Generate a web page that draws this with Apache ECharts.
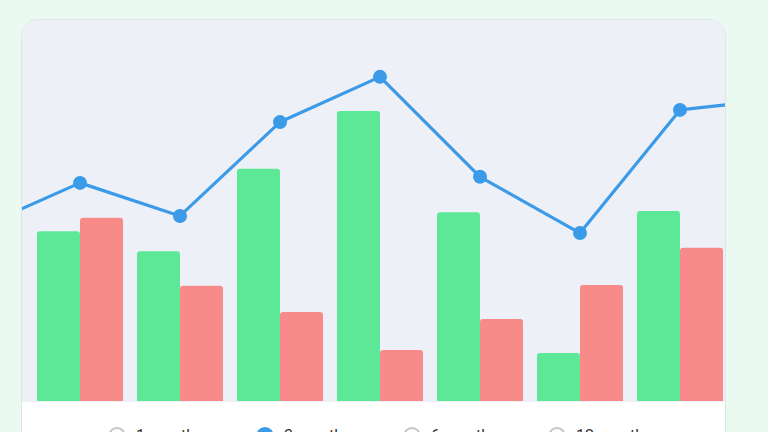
<!DOCTYPE html>
<html><head><meta charset="utf-8">
<script src="https://cdn.jsdelivr.net/npm/echarts@6/dist/echarts.min.js"></script>
<style>
html,body{margin:0;padding:0;width:768px;height:432px;overflow:hidden;background:#eafaf0;font-family:Roboto,"Noto Sans",sans-serif;}
#card{position:absolute;left:21px;top:19px;width:705px;height:460px;border-radius:16px;overflow:hidden;background:#fff;border:1px solid #dfe3ea;box-sizing:border-box;}
#plot{position:absolute;left:0;top:0;width:705px;height:382px;background:#eef0f8;overflow:hidden;}
#chart{position:absolute;left:-92px;top:0;width:900px;height:382px;}
#footer{position:absolute;left:0;top:382px;width:705px;height:80px;}
.radio{position:absolute;top:24px;display:flex;align-items:center;font-size:16px;color:#333;}
.radio .c{width:18px;height:18px;border-radius:50%;border:2px solid #c4c4c4;box-sizing:border-box;margin-right:10px;background:#fff;}
.radio.sel .c{border-color:#3b9be8;background:#3b9be8;}
</style></head>
<body>
<div id="card">
  <div id="plot"><div id="chart"></div></div>
  <div id="footer"></div>
</div>
<script>
const categories = ['P0','P1','P2','P3','P4','P5','P6','P7','P8'];
const greenValues = ['-', 44.7, 39.4, 61.1, 76.3, 49.7, 12.6, 50.0, '-'];
const redValues   = ['-', 48.2, 30.3, 23.4, 13.4, 21.6, 30.5, 40.3, '-'];
const lineValues  = [45.7, 57.4, 48.7, 73.4, 85.3, 59.0, 44.2, 76.6, 79.5];
const rangeLabels = ['1 month', '3 months', '6 months', '12 months'];
const selectedRange = 1;

const footer = document.getElementById('footer');
const radioX = [86, 234, 381, 526];
rangeLabels.forEach((t, i) => {
  const d = document.createElement('div');
  d.className = 'radio' + (i === selectedRange ? ' sel' : '');
  d.style.left = radioX[i] + 'px';
  d.innerHTML = '<span class="c"></span><span>' + t + '</span>';
  footer.appendChild(d);
});

const chart = echarts.init(document.getElementById('chart'), null, {renderer: 'canvas'});
chart.setOption({
  animation: false,
  backgroundColor: 'transparent',
  grid: {left: 0, right: 0, top: 1, bottom: 1, containLabel: false},
  xAxis: {type: 'category', data: categories, show: false, boundaryGap: true},
  yAxis: {type: 'value', min: 0, max: 100, show: false},
  series: [
    {type: 'bar', data: greenValues, barGap: '0%', barCategoryGap: '14%',
     itemStyle: {color: '#5ce896', borderRadius: [3, 3, 0, 0]}},
    {type: 'bar', data: redValues,
     itemStyle: {color: '#f98a8a', borderRadius: [3, 3, 0, 0]}},
    {type: 'line', data: lineValues, symbol: 'circle', symbolSize: 14, clip: false,
     lineStyle: {color: '#3b9be8', width: 3.2}, itemStyle: {color: '#3b9be8'}}
  ]
});
</script>
</body></html>
